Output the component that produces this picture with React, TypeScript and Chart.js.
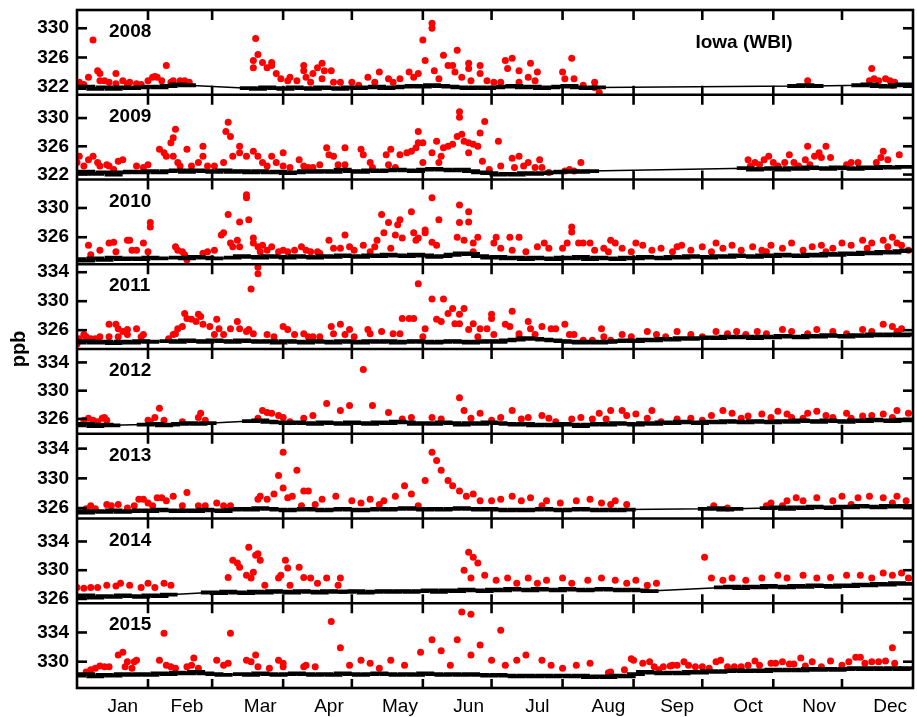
import React, { useEffect, useRef } from 'react';
import { Chart, registerables } from 'chart.js';

Chart.register(...registerables);

type Pt = [number, number];

const FONT = '"Liberation Sans", Arial, Helvetica, sans-serif';

const years = ['2008', '2009', '2010', '2011', '2012', '2013', '2014', '2015'];
const monthLabels = ['Jan', 'Feb', 'Mar', 'Apr', 'May', 'Jun', 'Jul', 'Aug', 'Sep', 'Oct', 'Nov', 'Dec'];
const monthLabelDays = [20, 48, 80, 110, 141, 171, 201, 232, 262, 293, 324, 355];
const monthBoundaryDays = [31, 59, 90, 120, 151, 181, 212, 243, 273, 304, 334];

const yMin = [320.9, 321.3, 322.3, 323.4, 323.9, 324.6, 325.4, 326.4];
const yMax = [332.5, 333.3, 333.9, 335.1, 335.9, 336.0, 337.2, 338.0];

const yTicks2008 = [322, 326, 330];
const yTicks2009 = [322, 326, 330];
const yTicks2010 = [326, 330];
const yTicks2011 = [326, 330, 334];
const yTicks2012 = [326, 330, 334];
const yTicks2013 = [326, 330, 334];
const yTicks2014 = [326, 330, 334];
const yTicks2015 = [330, 334];

// red: daily points [day of year, ppb]
const red2008: Pt[] = [
  [1, 322.6], [3, 322.3], [5, 323.3], [7, 328.4], [9, 324.2], [10, 323.8], [10, 322.8], [12, 322.8], [14, 322.6], [17, 322.4], [17, 323.8], [20, 322.8], [22, 322.4], [23, 322.6], [26, 322.4], [28, 322.3], [31, 322.8], [33, 323.3], [34, 323.4], [35, 323.3], [37, 322.8], [39, 324.9], [41, 322.6], [42, 322.8], [45, 322.8], [47, 322.8], [49, 322.6],
  [77, 325.6], [78, 328.6], [79, 326.4], [77, 324.6], [81, 325.3], [83, 324.6], [85, 325.3], [85, 324.9], [87, 323.8], [89, 323.1], [92, 322.8], [93, 323.3], [96, 322.8], [99, 324.9], [99, 324.2], [100, 323.3], [102, 322.6], [103, 323.8], [105, 324.6], [107, 325.2], [108, 324.2], [107, 323.1], [111, 324.2], [112, 322.6], [115, 322.6], [120, 322.6], [123, 322.2], [127, 323.3], [130, 322.6], [132, 324.0], [136, 323.1], [138, 322.6], [141, 323.1], [145, 324.0], [147, 323.3], [149, 323.8], [151, 328.4], [155, 330.7], [155, 330.0], [152, 325.6], [156, 324.2], [158, 323.1], [160, 326.3], [162, 324.9], [164, 324.9], [166, 327.0], [165, 324.0], [168, 323.3], [171, 325.2], [171, 324.5], [172, 322.8], [176, 324.9], [176, 323.8], [179, 322.8], [182, 322.6], [185, 322.6], [187, 325.6], [190, 325.9], [188, 324.5], [193, 324.2], [193, 322.6], [198, 325.2], [197, 323.3], [201, 324.0], [200, 322.8], [212, 324.0], [216, 325.9], [213, 323.1], [217, 323.1], [221, 322.2], [226, 322.6], [226, 321.9], [228, 321.2],
  [319, 322.8], [347, 324.5], [346, 322.8], [348, 323.1], [350, 322.8], [353, 323.1], [355, 322.8], [357, 322.6], [356, 322.2],
];
const red2009: Pt[] = [
  [0, 323.7], [1, 324.6], [3, 323.2], [5, 324.1], [7, 324.6], [9, 323.7], [10, 323.2], [13, 323.4], [14, 323.2], [16, 322.7], [18, 323.9], [20, 324.1], [26, 323.2], [29, 323.0], [31, 323.4], [36, 325.6], [38, 325.1], [39, 324.6], [41, 326.5], [42, 327.2], [43, 328.4], [42, 324.6], [44, 323.7], [45, 323.2], [48, 325.6], [50, 323.2], [53, 323.7], [55, 326.0], [55, 324.6], [57, 323.2], [60, 323.2], [64, 323.7], [65, 328.1], [66, 329.4], [67, 327.4], [68, 324.6], [71, 325.1], [71, 326.0], [74, 324.6], [77, 325.3], [79, 324.6], [81, 323.7], [83, 323.2], [85, 324.6], [87, 323.7], [90, 325.1], [90, 323.2], [93, 323.0], [97, 324.1], [99, 323.2], [101, 323.0], [103, 323.0], [106, 323.4], [109, 325.8], [110, 324.8], [112, 324.6], [114, 323.4], [117, 325.8], [117, 323.4], [124, 325.6], [125, 324.8], [128, 323.7], [129, 323.0], [135, 324.8], [136, 323.4], [137, 325.6], [139, 323.0], [141, 324.8], [144, 325.1], [146, 325.3], [148, 325.8], [149, 326.5], [149, 328.1], [151, 323.7], [151, 326.5], [155, 325.1], [157, 326.7], [158, 323.7], [159, 324.6], [160, 325.8], [162, 326.0], [164, 326.3], [166, 327.4], [167, 330.9], [167, 330.1], [168, 327.7], [169, 326.7], [171, 326.5], [171, 325.1], [173, 326.3], [175, 326.0], [176, 327.9], [178, 329.5], [177, 323.9], [180, 322.7], [184, 326.7], [185, 323.2], [190, 324.3], [193, 324.6], [191, 323.0], [195, 323.2], [197, 323.7], [200, 323.0], [202, 324.1], [203, 323.0], [206, 322.3], [213, 322.5], [215, 322.7], [217, 322.5], [220, 323.7],
  [293, 324.1], [294, 323.2], [296, 323.7], [298, 323.4], [300, 324.1], [302, 324.6], [304, 323.7], [306, 323.2], [309, 323.7], [311, 324.8], [313, 323.7], [315, 323.2], [318, 324.1], [319, 326.0], [320, 323.4], [322, 324.6], [324, 325.1], [325, 324.4], [327, 326.0], [329, 324.4], [336, 323.4], [338, 323.7], [341, 323.7], [349, 323.7], [351, 324.4], [352, 325.3], [354, 324.1], [359, 324.8],
];
const red2010: Pt[] = [
  [5, 324.9], [6, 323.6], [10, 324.2], [14, 325.2], [16, 325.3], [17, 324.0], [22, 325.6], [23, 325.6], [24, 324.2], [26, 324.2], [29, 325.2], [31, 324.0], [32, 327.4], [32, 328.0], [43, 324.7], [44, 324.2], [46, 324.0], [47, 323.6], [48, 322.9], [55, 323.8], [57, 324.0], [60, 324.2], [63, 326.3], [64, 326.6], [66, 329.1], [67, 325.2], [68, 324.7], [70, 325.6], [71, 328.1], [71, 324.7], [74, 331.8], [74, 331.4], [75, 328.4], [77, 325.9], [77, 325.2], [79, 324.7], [80, 324.0], [81, 324.9], [83, 324.2], [85, 324.7], [88, 324.0], [90, 324.2], [92, 324.0], [95, 324.2], [98, 324.7], [100, 324.2], [102, 324.0], [105, 324.0], [106, 323.8], [110, 325.6], [112, 324.5], [115, 324.5], [117, 326.3], [119, 324.7], [121, 324.2], [125, 324.9], [128, 324.0], [130, 324.7], [131, 325.6], [133, 329.1], [134, 326.6], [136, 328.0], [137, 324.5], [139, 326.3], [140, 327.7], [141, 328.4], [142, 325.9], [146, 329.5], [147, 326.6], [148, 325.6], [149, 325.9], [152, 326.6], [152, 327.0], [155, 331.4], [155, 325.3], [157, 324.9], [158, 328.4], [167, 330.4], [167, 328.0], [166, 326.0], [169, 325.6], [171, 329.5], [171, 328.1], [173, 325.2], [175, 326.0], [173, 324.0], [182, 325.2], [183, 326.0], [185, 324.5], [189, 326.0], [190, 324.2], [193, 326.0], [196, 324.0], [201, 324.7], [204, 325.2], [206, 324.5], [212, 324.5], [214, 325.2], [216, 327.4], [216, 326.7], [219, 325.2], [221, 325.2], [224, 325.2], [226, 324.2], [230, 324.5], [232, 324.0], [233, 325.6], [235, 325.2], [238, 324.5], [242, 324.0], [244, 325.2], [247, 324.9], [251, 324.2], [255, 324.5], [260, 324.0], [262, 324.7], [264, 324.9], [268, 324.2], [273, 324.7], [277, 324.0], [279, 325.2], [282, 324.5], [286, 324.9], [290, 324.2], [295, 324.7], [299, 324.2], [301, 324.0], [303, 324.9], [308, 324.5], [312, 325.2], [317, 324.2], [321, 324.7], [325, 324.9], [327, 324.0], [330, 324.5], [334, 325.2], [338, 324.9], [343, 325.6], [345, 324.5], [347, 325.2], [352, 325.6], [354, 324.7], [356, 326.0], [358, 325.2], [360, 324.9], [363, 324.2],
];
const red2011: Pt[] = [
  [0, 324.1], [1, 324.8], [3, 325.4], [4, 325.1], [6, 324.8], [8, 324.8], [10, 325.1], [14, 325.1], [14, 326.8], [17, 326.8], [18, 326.2], [18, 325.1], [20, 325.8], [22, 325.4], [22, 326.1], [26, 326.2], [28, 325.1], [29, 325.4], [40, 324.8], [42, 325.4], [43, 325.5], [44, 326.2], [46, 326.5], [47, 328.3], [48, 327.6], [50, 327.5], [52, 327.2], [53, 328.2], [54, 327.9], [55, 326.8], [58, 326.5], [60, 325.4], [61, 327.5], [62, 326.2], [64, 325.4], [67, 326.2], [70, 327.2], [71, 326.2], [74, 325.8], [75, 326.1], [77, 325.5], [79, 334.7], [79, 333.8], [76, 331.7], [83, 325.4], [86, 325.1], [90, 326.5], [92, 326.1], [95, 325.4], [99, 325.5], [101, 325.1], [103, 325.1], [106, 325.1], [111, 326.5], [112, 325.5], [115, 326.8], [117, 325.4], [119, 326.1], [121, 325.1], [127, 326.1], [128, 325.5], [133, 325.8], [138, 325.5], [141, 325.5], [142, 327.6], [145, 327.6], [147, 327.6], [149, 332.4], [151, 325.1], [152, 326.2], [155, 330.3], [157, 327.5], [159, 327.2], [160, 330.3], [162, 328.3], [164, 329.0], [165, 326.9], [167, 328.2], [167, 326.9], [169, 329.0], [171, 326.1], [173, 326.9], [175, 325.1], [176, 326.2], [179, 326.2], [181, 328.2], [181, 327.6], [182, 325.4], [187, 326.8], [189, 326.5], [190, 328.6], [193, 325.5], [193, 325.1], [197, 327.2], [198, 326.2], [200, 325.4], [203, 326.5], [207, 326.2], [209, 326.2], [213, 326.8], [215, 325.4], [217, 325.4], [221, 324.6], [225, 324.6], [229, 326.2], [230, 325.1], [233, 324.6], [238, 325.4], [242, 325.1], [249, 325.8], [253, 325.4], [257, 325.1], [262, 325.8], [268, 325.4], [273, 325.1], [279, 325.8], [284, 325.5], [288, 325.8], [292, 325.4], [297, 325.8], [301, 325.5], [308, 326.1], [312, 325.8], [319, 325.5], [323, 326.1], [330, 325.8], [336, 325.5], [343, 326.1], [347, 325.8], [352, 326.8], [356, 326.5], [358, 325.8], [360, 326.2],
];
const red2012: Pt[] = [
  [3, 325.8], [5, 326.1], [7, 325.8], [9, 325.6], [11, 326.1], [12, 326.2], [13, 325.8], [31, 325.8], [32, 325.6], [34, 326.2], [36, 327.5], [38, 325.8], [46, 325.6], [53, 326.2], [54, 326.8], [56, 325.8], [79, 326.1], [81, 327.2], [83, 326.9], [85, 326.8], [88, 326.5], [90, 326.2], [93, 325.6], [99, 326.1], [103, 326.5], [109, 328.2], [115, 327.2], [119, 327.9], [125, 333.0], [129, 327.9], [136, 326.9], [142, 326.0], [146, 326.2], [155, 326.2], [159, 326.0], [167, 329.0], [169, 327.2], [172, 326.1], [176, 326.8], [181, 325.8], [185, 326.2], [190, 327.2], [194, 326.0], [197, 326.2], [203, 326.5], [206, 326.1], [209, 325.6], [216, 326.0], [220, 326.2], [225, 326.0], [228, 326.8], [231, 326.0], [233, 327.2], [238, 327.2], [240, 326.5], [244, 326.7], [249, 326.1], [251, 327.2], [255, 325.6], [262, 326.0], [268, 326.1], [273, 325.8], [277, 326.5], [282, 327.2], [286, 326.8], [290, 326.1], [293, 326.4], [299, 326.7], [303, 326.2], [306, 327.1], [310, 326.7], [312, 326.2], [317, 326.1], [319, 326.8], [323, 327.1], [327, 326.5], [330, 326.2], [336, 326.8], [338, 326.1], [343, 326.4], [347, 326.5], [352, 326.7], [356, 326.2], [358, 327.2], [363, 326.8],
];
const red2013: Pt[] = [
  [4, 325.9], [6, 326.3], [8, 325.9], [13, 326.5], [15, 326.3], [18, 326.5], [22, 326.0], [25, 326.3], [27, 327.2], [29, 327.2], [31, 326.7], [33, 326.3], [35, 327.4], [37, 327.4], [39, 327.0], [42, 327.6], [46, 326.3], [48, 328.1], [53, 326.3], [56, 326.3], [61, 326.7], [64, 326.3], [67, 326.3], [79, 327.2], [80, 327.6], [83, 327.2], [86, 327.9], [88, 330.4], [90, 333.5], [90, 328.7], [92, 327.4], [94, 327.6], [96, 331.1], [98, 326.3], [99, 328.3], [101, 328.3], [104, 326.5], [107, 327.2], [113, 327.6], [120, 327.0], [124, 326.7], [128, 327.2], [132, 326.5], [134, 327.0], [139, 327.6], [143, 329.0], [146, 327.9], [149, 326.3], [152, 329.7], [155, 333.5], [157, 332.4], [159, 331.1], [162, 329.7], [164, 329.0], [167, 328.3], [170, 327.6], [173, 327.9], [176, 327.0], [181, 327.0], [185, 327.2], [190, 327.6], [194, 327.0], [198, 327.4], [203, 326.3], [205, 327.0], [211, 326.7], [218, 327.0], [224, 327.2], [229, 326.7], [233, 326.5], [235, 327.0], [240, 326.5], [278, 326.3], [284, 326.0], [301, 326.3], [303, 326.7], [308, 326.3], [310, 327.0], [314, 327.4], [317, 327.0], [323, 327.4], [330, 327.0], [334, 327.6], [338, 326.5], [341, 327.4], [346, 327.6], [352, 327.4], [356, 326.7], [358, 327.6], [362, 327.0],
];
const red2014: Pt[] = [
  [0, 327.6], [3, 327.5], [6, 327.6], [9, 327.6], [13, 327.9], [17, 327.8], [19, 328.2], [23, 327.9], [28, 327.6], [31, 328.2], [34, 327.6], [38, 328.2], [41, 327.9], [66, 329.0], [68, 331.4], [70, 331.0], [71, 330.4], [74, 329.3], [75, 333.2], [76, 328.9], [77, 329.7], [78, 332.1], [79, 332.3], [80, 331.4], [82, 327.9], [88, 328.9], [89, 329.3], [91, 331.4], [92, 330.3], [93, 327.9], [97, 330.4], [99, 329.0], [102, 328.9], [105, 328.2], [109, 328.9], [114, 327.9], [115, 328.9],
  [169, 330.0], [171, 332.5], [172, 328.9], [173, 331.8], [175, 331.0], [178, 329.3], [183, 328.6], [188, 328.9], [192, 328.2], [197, 328.9], [201, 328.2], [205, 328.6], [212, 328.9], [216, 328.2], [223, 328.6], [229, 328.9], [235, 328.6], [240, 328.2], [244, 328.6], [249, 327.9], [253, 328.2],
  [274, 331.8], [277, 328.9], [282, 328.6], [286, 328.9], [292, 328.6], [299, 328.9], [306, 329.3], [310, 328.9], [317, 329.3], [323, 328.9], [329, 329.0], [336, 329.3], [342, 329.3], [347, 328.9], [352, 329.6], [356, 329.3], [360, 329.6], [363, 328.9],
];
const red2015: Pt[] = [
  [4, 328.6], [6, 328.9], [8, 329.1], [10, 329.4], [12, 329.3], [14, 329.3], [18, 330.9], [20, 331.3], [21, 329.3], [22, 330.0], [24, 329.1], [25, 330.0], [26, 330.2], [36, 330.2], [38, 333.9], [39, 329.5], [41, 329.3], [43, 329.1], [48, 329.3], [50, 329.5], [51, 330.5], [53, 329.1], [61, 330.2], [64, 329.5], [66, 329.8], [67, 333.9], [74, 330.2], [76, 330.0], [78, 330.9], [79, 329.3], [84, 329.1], [88, 330.2], [90, 329.3], [90, 329.8], [99, 329.3], [100, 329.5], [104, 329.3], [111, 335.5], [115, 331.9], [119, 329.5], [124, 330.2], [128, 329.8], [132, 329.1], [137, 330.2], [143, 329.5], [150, 331.3], [155, 333.0], [159, 331.5], [163, 329.5], [166, 333.0], [168, 336.8], [172, 336.5], [172, 330.9], [176, 332.3], [181, 330.2], [185, 334.3], [187, 329.5], [192, 330.2], [196, 330.9], [203, 330.2], [207, 329.5], [212, 329.1], [218, 329.5], [224, 329.8],
  [232, 328.5], [233, 328.6], [239, 328.9], [242, 330.4], [243, 330.2], [247, 329.8], [250, 330.0], [252, 329.3], [254, 328.9], [256, 329.3], [259, 329.4], [260, 329.5], [262, 329.5], [265, 330.0], [267, 329.5], [270, 329.3], [273, 329.3], [276, 329.1], [279, 330.0], [281, 330.2], [284, 329.3], [287, 329.3], [290, 329.3], [293, 329.5], [296, 330.1], [298, 329.5], [303, 329.8], [305, 329.8], [308, 330.0], [311, 329.7], [313, 329.7], [316, 330.5], [318, 329.4], [321, 330.0], [325, 329.3], [329, 330.1], [334, 329.5], [337, 330.0], [340, 330.6], [342, 330.6], [344, 329.8], [347, 330.0], [350, 330.0], [353, 330.1], [356, 331.9], [357, 329.8],
];

// black: background values [day of year, ppb]
const base2008: Pt[] = [
  [0, 321.8], [4, 322.0], [8, 321.7], [12, 321.9], [16, 321.7], [20, 321.9], [24, 321.8], [28, 321.9], [32, 322.0], [36, 321.9], [40, 322.1], [44, 322.3], [48, 322.2],
  [75, 321.8], [79, 321.7], [83, 321.9], [87, 321.8], [91, 321.7], [95, 321.9], [99, 321.8], [103, 321.7], [107, 321.9], [111, 321.8], [115, 321.7], [119, 321.9], [123, 321.8], [127, 321.9], [131, 322.0], [135, 321.8], [139, 321.9], [143, 322.0], [147, 322.1], [151, 322.0], [155, 322.2], [159, 322.1], [163, 322.0], [167, 321.9], [171, 321.8], [175, 321.9], [179, 321.8], [183, 321.9], [187, 322.0], [191, 322.1], [195, 321.9], [199, 322.0], [203, 321.8], [207, 321.9], [211, 322.0], [215, 322.1], [219, 321.9], [223, 321.8], [227, 321.9],
  [314, 322.1], [318, 322.2], [322, 322.1],
  [342, 322.2], [346, 322.3], [350, 322.1], [354, 322.0], [358, 322.2], [361, 322.3],
];
const base2009: Pt[] = [
  [0, 322.2], [4, 322.4], [8, 322.1], [12, 322.3], [16, 322.0], [20, 322.3], [24, 322.4], [28, 322.3], [32, 322.5], [36, 322.3], [40, 322.5], [44, 322.6], [48, 322.4], [52, 322.6], [56, 322.5], [60, 322.4], [64, 322.6], [68, 322.4], [72, 322.5], [76, 322.3], [80, 322.5], [84, 322.3], [88, 322.4], [92, 322.2], [96, 322.3], [100, 322.5], [104, 322.4], [108, 322.5], [112, 322.4], [116, 322.7], [120, 322.5], [124, 322.4], [128, 322.6], [132, 322.5], [136, 322.6], [140, 322.7], [144, 322.6], [148, 322.5], [152, 322.7], [156, 322.8], [160, 322.7], [164, 322.6], [168, 322.7], [172, 322.5], [176, 322.3], [180, 322.2], [184, 322.0], [188, 322.1], [192, 322.0], [196, 322.2], [200, 322.1], [204, 322.2], [208, 322.3], [212, 322.4], [216, 322.5], [220, 322.4], [224, 322.5],
  [292, 322.9], [296, 322.7], [300, 322.8], [304, 322.9], [308, 322.7], [312, 322.9], [316, 322.8], [320, 323.0], [324, 322.9], [328, 322.8], [332, 323.0], [336, 322.9], [340, 322.8], [344, 323.0], [348, 322.9], [352, 323.1], [356, 323.0], [361, 323.1],
];
const base2010: Pt[] = [
  [0, 323.0], [4, 322.8], [8, 323.1], [12, 322.9], [16, 323.2], [20, 323.0], [24, 323.1], [28, 323.0], [32, 323.2], [36, 323.1],
  [44, 323.2], [48, 323.1], [52, 323.3], [56, 323.2], [60, 323.1],
  [68, 323.2], [72, 323.4], [76, 323.3], [80, 323.2], [84, 323.4], [88, 323.3], [92, 323.2], [96, 323.4], [100, 323.3], [104, 323.2], [108, 323.4], [112, 323.3], [116, 323.5], [120, 323.4], [124, 323.3], [128, 323.5], [132, 323.4], [136, 323.6], [140, 323.5], [144, 323.4], [148, 323.6], [152, 323.5], [156, 323.3], [160, 323.4], [164, 323.6], [168, 323.8], [172, 323.7], [176, 323.4], [180, 323.2], [184, 323.3], [188, 323.1], [192, 323.2], [196, 323.0], [200, 323.2], [204, 323.1], [208, 323.0], [212, 323.2], [216, 323.1], [220, 323.3], [224, 323.0], [228, 323.2], [232, 323.1], [236, 323.0], [240, 323.2], [244, 323.1], [248, 323.3], [252, 323.2], [256, 323.1], [260, 323.3], [264, 323.2], [268, 323.4], [272, 323.3], [276, 323.2], [280, 323.4], [284, 323.3], [288, 323.5], [292, 323.4], [296, 323.3], [300, 323.5], [304, 323.4], [308, 323.6], [312, 323.5], [316, 323.4], [320, 323.6], [324, 323.5], [328, 323.7], [332, 323.6], [336, 323.8], [340, 323.7], [344, 323.9], [348, 323.8], [352, 324.0], [356, 323.9], [360, 324.1], [363, 324.2],
];
const base2011: Pt[] = [
  [0, 324.3], [4, 324.5], [8, 324.3], [12, 324.4], [16, 324.2], [20, 324.4], [24, 324.3], [28, 324.5], [32, 324.4],
  [40, 324.5], [44, 324.4], [48, 324.6], [52, 324.5], [56, 324.4], [60, 324.6], [64, 324.5], [68, 324.4], [72, 324.6], [76, 324.5], [80, 324.4], [84, 324.5], [88, 324.3], [92, 324.5], [96, 324.4], [100, 324.3], [104, 324.5], [108, 324.4], [112, 324.3], [116, 324.5], [120, 324.4], [124, 324.3], [128, 324.5], [132, 324.4], [136, 324.5], [140, 324.3], [144, 324.4], [148, 324.5], [152, 324.4], [156, 324.3], [160, 324.4], [164, 324.5], [168, 324.4], [172, 324.3], [176, 324.4], [180, 324.5], [184, 324.4], [188, 324.6], [192, 324.7], [196, 324.9], [200, 324.8], [204, 324.7], [208, 324.6], [212, 324.5], [216, 324.4], [220, 324.3], [224, 324.4], [228, 324.3], [232, 324.4], [236, 324.5], [240, 324.6], [244, 324.5], [248, 324.7], [252, 324.6], [256, 324.8], [260, 324.7], [264, 324.9], [268, 324.8], [272, 324.9], [276, 325.0], [280, 324.9], [284, 325.1], [288, 325.0], [292, 325.1], [296, 324.9], [300, 325.1], [304, 325.0], [308, 325.2], [312, 325.1], [316, 325.0], [320, 325.2], [324, 325.1], [328, 325.3], [332, 325.2], [336, 325.1], [340, 325.3], [344, 325.2], [348, 325.4], [352, 325.3], [356, 325.4], [360, 325.3], [363, 325.4],
];
const base2012: Pt[] = [
  [0, 325.1], [4, 325.3], [8, 325.0], [12, 325.2], [15, 325.1],
  [30, 325.2], [34, 325.3], [38, 325.1], [41, 325.2],
  [45, 325.3], [49, 325.4], [53, 325.3], [57, 325.4],
  [76, 325.7], [80, 325.8], [84, 325.6], [88, 325.5], [92, 325.4], [96, 325.5], [100, 325.4], [104, 325.3], [108, 325.5], [112, 325.4], [116, 325.3], [120, 325.5], [124, 325.4], [128, 325.3], [132, 325.5], [136, 325.4], [140, 325.6], [144, 325.5], [148, 325.3], [152, 325.4], [156, 325.3], [160, 325.5], [164, 325.4], [168, 325.2], [172, 325.4], [176, 325.3], [180, 325.5], [184, 325.4], [188, 325.3], [192, 325.2], [196, 325.3], [200, 325.1], [204, 325.2], [208, 325.1], [212, 325.3], [216, 325.2], [220, 325.0], [224, 325.2], [228, 325.3], [232, 325.2], [236, 325.4], [240, 325.3], [244, 325.2], [248, 325.4], [252, 325.3], [256, 325.5], [260, 325.4], [264, 325.6], [268, 325.5], [272, 325.4], [276, 325.6], [280, 325.5], [284, 325.7], [288, 325.6], [292, 325.5], [296, 325.7], [300, 325.6], [304, 325.5], [308, 325.7], [312, 325.6], [316, 325.8], [320, 325.7], [324, 325.6], [328, 325.8], [332, 325.7], [336, 325.6], [340, 325.8], [344, 325.7], [348, 325.9], [352, 325.8], [356, 325.7], [360, 325.9], [363, 325.8],
];
const base2013: Pt[] = [
  [0, 325.6], [4, 325.4], [8, 325.6], [12, 325.5], [16, 325.7], [20, 325.5], [24, 325.6], [28, 325.7], [32, 325.6], [36, 325.8], [40, 325.7], [44, 325.6], [48, 325.7], [52, 325.6], [56, 325.8], [60, 325.7], [64, 325.6], [68, 325.8], [72, 325.9], [76, 325.8], [80, 326.0], [84, 325.9], [88, 325.8], [92, 325.7], [96, 325.8], [100, 325.9], [104, 325.8], [108, 325.7], [112, 325.8], [116, 325.9], [120, 325.8], [124, 325.7], [128, 325.8], [132, 325.9], [136, 325.8], [140, 325.9], [144, 326.0], [148, 325.9], [152, 325.8], [156, 325.9], [160, 325.8], [164, 325.9], [168, 326.0], [172, 325.9], [176, 325.8], [180, 325.9], [184, 325.8], [188, 325.7], [192, 325.8], [196, 325.7], [200, 325.8], [204, 325.9], [208, 325.8], [212, 325.7], [216, 325.8], [220, 325.9], [224, 325.8], [228, 325.7], [232, 325.8], [236, 325.7], [240, 325.8],
  [275, 325.9], [279, 326.0], [283, 325.8], [287, 325.9],
  [302, 326.0], [306, 326.1], [310, 325.9], [314, 326.1], [318, 326.0], [322, 326.2], [326, 326.1], [330, 326.0], [334, 326.2], [338, 326.1], [342, 326.3], [346, 326.2], [350, 326.1], [354, 326.3], [358, 326.2], [362, 326.3],
];
const base2014: Pt[] = [
  [0, 326.3], [4, 326.5], [8, 326.2], [12, 326.4], [16, 326.3], [20, 326.5], [24, 326.4], [28, 326.3], [32, 326.5], [36, 326.4], [40, 326.6],
  [58, 326.9], [62, 326.8], [66, 327.0], [70, 326.9], [74, 326.8], [78, 327.0], [82, 326.9], [86, 327.1], [90, 327.0], [94, 326.9], [98, 327.1], [102, 327.0], [106, 326.9], [110, 327.1], [114, 327.0], [118, 327.0], [122, 327.1], [126, 326.9], [130, 327.0], [134, 327.1], [138, 327.0], [142, 327.1], [146, 327.0], [150, 327.1], [154, 327.2], [158, 327.0], [162, 327.2], [166, 327.1], [170, 327.3], [174, 327.2], [178, 327.1], [182, 327.3], [186, 327.2], [190, 327.4], [194, 327.3], [198, 327.2], [202, 327.4], [206, 327.3], [210, 327.2], [214, 327.4], [218, 327.3], [222, 327.2], [226, 327.3], [230, 327.4], [234, 327.3], [238, 327.2], [242, 327.3], [246, 327.2], [250, 327.1],
  [282, 327.6], [286, 327.7], [290, 327.5], [294, 327.7], [298, 327.6], [302, 327.8], [306, 327.7], [310, 327.6], [314, 327.8], [318, 327.7], [322, 327.9], [326, 327.8], [330, 327.7], [334, 327.9], [338, 327.8], [342, 328.0], [346, 327.9], [350, 328.1], [354, 328.0], [358, 328.2], [362, 328.1],
];
const base2015: Pt[] = [
  [0, 328.1], [4, 328.3], [8, 328.0], [12, 328.2], [16, 328.1], [20, 328.3], [24, 328.2], [28, 328.3], [32, 328.2], [36, 328.4], [40, 328.3], [44, 328.5], [48, 328.4], [52, 328.6], [56, 328.4], [60, 328.3], [64, 328.2],
  [72, 328.3], [76, 328.2], [80, 328.4], [84, 328.3], [88, 328.2], [92, 328.3], [96, 328.4], [100, 328.3], [104, 328.2], [108, 328.3], [112, 328.2], [116, 328.4], [120, 328.3], [124, 328.2], [128, 328.3], [132, 328.4], [136, 328.3], [140, 328.2], [144, 328.3], [148, 328.2], [152, 328.4], [156, 328.3], [160, 328.2], [164, 328.3], [168, 328.2], [172, 328.3], [176, 328.2], [180, 328.1], [184, 328.2], [188, 328.1], [192, 328.0], [196, 328.1], [200, 328.0], [204, 328.1], [208, 328.0], [212, 328.1], [216, 328.0], [220, 328.1], [224, 327.9], [228, 328.0], [232, 327.9], [236, 328.1], [240, 328.0], [244, 328.3], [248, 328.6], [252, 328.5], [256, 328.4], [260, 328.5], [264, 328.4], [268, 328.6], [272, 328.5], [276, 328.7], [280, 328.6], [284, 328.7], [288, 328.8], [292, 328.7], [296, 328.8], [300, 328.7], [304, 328.9], [308, 328.8], [312, 328.9], [316, 328.8], [320, 329.0], [324, 328.9], [328, 329.0], [332, 328.9], [336, 329.0], [340, 329.1], [344, 329.0], [348, 329.1], [352, 329.0], [356, 329.1], [360, 329.0], [363, 329.1],
];

const redSeries = [red2008, red2009, red2010, red2011, red2012, red2013, red2014, red2015];
const baseSeries = [base2008, base2009, base2010, base2011, base2012, base2013, base2014, base2015];
const yTickSeries = [yTicks2008, yTicks2009, yTicks2010, yTicks2011, yTicks2012, yTicks2013, yTicks2014, yTicks2015];

const panelPlugin = {
  id: 'panelFrames',
  afterDatasetsDraw(chart: any) {
    const ctx: CanvasRenderingContext2D = chart.ctx;
    const { left, right, top, bottom } = chart.chartArea;
    const xs = chart.scales.x;
    ctx.save();
    ctx.strokeStyle = '#000';
    ctx.lineCap = 'butt';
    const seg = (x1: number, y1: number, x2: number, y2: number, w: number) => {
      ctx.lineWidth = w;
      ctx.beginPath();
      ctx.moveTo(x1, y1);
      ctx.lineTo(x2, y2);
      ctx.stroke();
    };
    years.forEach((yr, i) => {
      const s = chart.scales['y' + yr];
      monthBoundaryDays.forEach((d) => {
        const px = xs.getPixelForValue(d);
        seg(px, s.top, px, s.top + 10, 2.6);
        seg(px, s.bottom, px, s.bottom - 9, 2.6);
      });
      yTickSeries[i].forEach((v) => {
        const py = s.getPixelForValue(v);
        seg(left, py, left + 10, py, 2.6);
        seg(right, py, right - 10, py, 2.6);
      });
      if (i > 0) seg(left, s.top, right, s.top, 2.6);
      ctx.fillStyle = '#000';
      ctx.font = 'bold 19px ' + FONT;
      ctx.textAlign = 'left';
      ctx.textBaseline = 'middle';
      ctx.fillText(yr, 109, s.top + 22);
    });
    ctx.lineWidth = 2.6;
    ctx.strokeRect(left, top, right - left, bottom - top);
    ctx.fillStyle = '#000';
    ctx.font = 'bold 19px ' + FONT;
    ctx.textAlign = 'center';
    ctx.textBaseline = 'middle';
    ctx.fillText('Iowa (WBI)', 744, 43);
    ctx.translate(19, 349);
    ctx.rotate(-Math.PI / 2);
    ctx.font = 'bold 20px ' + FONT;
    ctx.fillText('ppb', 0, 0);
    ctx.restore();
  },
};

export default function App() {
  const ref = useRef<HTMLCanvasElement>(null);
  useEffect(() => {
    const canvas = ref.current;
    if (!canvas) return;
    const datasets: any[] = [];
    years.forEach((yr, i) => {
      datasets.push({
        label: 'bg ' + yr,
        data: baseSeries[i].map(([d, v]) => ({ x: d, y: v })),
        yAxisID: 'y' + yr,
        xAxisID: 'x',
        showLine: true,
        borderColor: '#000',
        borderWidth: 1.5,
        pointStyle: 'line',
        pointRadius: 9,
        pointBorderWidth: 3.8,
        pointBorderColor: '#000',
        pointBackgroundColor: '#000',
        order: 1,
      });
      datasets.push({
        label: 'obs ' + yr,
        data: redSeries[i].map(([d, v]) => ({ x: d, y: v })),
        yAxisID: 'y' + yr,
        xAxisID: 'x',
        showLine: false,
        pointStyle: 'circle',
        pointRadius: 3.5,
        pointBorderWidth: 0,
        pointBackgroundColor: '#ff0000',
        pointBorderColor: '#ff0000',
        order: 2,
      });
    });
    const scales: any = {
      x: {
        type: 'linear',
        position: 'bottom',
        min: 0,
        max: 365,
        grid: { display: false, drawTicks: false },
        border: { display: false },
        afterBuildTicks: (a: any) => {
          a.ticks = monthLabelDays.map((v) => ({ value: v }));
        },
        afterFit: (a: any) => {
          a.height = 29;
          a.paddingLeft = 0;
          a.paddingRight = 0;
          a.paddingTop = 0;
          a.paddingBottom = 0;
        },
        ticks: {
          autoSkip: false,
          maxRotation: 0,
          padding: 7,
          color: '#000',
          font: { family: FONT, size: 19 },
          callback: (_v: any, i: number) => monthLabels[i],
        },
      },
    };
    years.forEach((yr, i) => {
      scales['y' + yr] = {
        type: 'linear',
        position: 'left',
        stack: 'panels',
        stackWeight: 1,
        weight: years.length - i,
        min: yMin[i],
        max: yMax[i],
        grid: { display: false, drawTicks: false },
        border: { display: false },
        afterBuildTicks: (a: any) => {
          a.ticks = yTickSeries[i].map((v) => ({ value: v }));
        },
        afterFit: (a: any) => {
          a.width = 77;
          a.paddingTop = 0;
          a.paddingBottom = 0;
          a.paddingLeft = 0;
          a.paddingRight = 0;
        },
        ticks: {
          autoSkip: false,
          padding: 8,
          color: '#000',
          font: { family: FONT, size: 19, weight: 'bold' },
          callback: (v: any) => String(v),
        },
      };
    });
    const chart = new Chart(canvas, {
      type: 'scatter',
      data: { datasets },
      options: {
        responsive: false,
        animation: false,
        devicePixelRatio: 1,
        events: [],
        layout: { autoPadding: false, padding: { top: 10, right: 4, left: 0, bottom: 0 } },
        plugins: { legend: { display: false }, tooltip: { enabled: false } },
        scales,
      } as any,
      plugins: [panelPlugin],
    });
    return () => chart.destroy();
  }, []);
  return (
    <div style={{ position: 'fixed', left: 0, top: 0, width: 917, height: 717, background: '#fff' }}>
      <canvas ref={ref} width={917} height={717} style={{ display: 'block' }} />
    </div>
  );
}
